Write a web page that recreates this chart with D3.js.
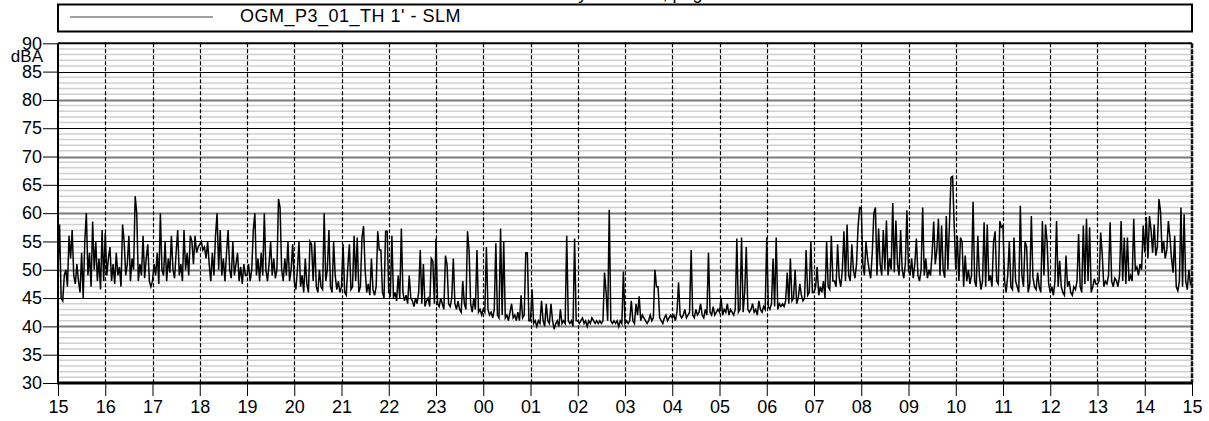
<!DOCTYPE html>
<html>
<head>
<meta charset="utf-8">
<script src="https://cdn.jsdelivr.net/npm/d3@7"></script>
<style>
  html, body { margin: 0; padding: 0; background: #fff; }
  svg { display: block; font-family: "Liberation Sans", Arial, sans-serif; }
</style>
</head>
<body>
<svg id="chart" width="1209" height="421"></svg>
<script>
// ---------------- data ----------------
const titleText = "Time history 24 hours, page 1";
const seriesName = "OGM_P3_01_TH 1' - SLM";
const unitLabel = "dBA";
const stepMinutes = 2;               // one value every 2 minutes, starting 15:00
const hourLabels = ["15","16","17","18","19","20","21","22","23","00","01","02","03","04","05","06","07","08","09","10","11","12","13","14","15"];
const yTicks = [30,35,40,45,50,55,60,65,70,75,80,85,90];

// LAeq 1' levels (dBA), one row per hour (30 values each)
const h15 = [50,58,45,44.5,49,50,47,56,52,57,49,47.5,51,48,46,53,45,55,60,49,53,47,58.5,50,55,48,52,46.5,57,48];
const h16 = [56.5,49,52,54,48,51,47.5,53,49,50.5,47,58,55,49,51,56,48,52,50,63,60,48,51,49,56,48.5,52,54.5,48,47];
const h17 = [48,51,49,53,47.5,60,50,49,55,48,52,49.5,56,50,48.5,53,57,49,51,48,57,50,53,49,56,55,51,56,53,54];
const h18 = [54.5,55,53.5,54,52,55,51,48,53,49,56,60,50,57,49,52,48,53,57,50,48.5,55,49,51,53,48,50.5,47.5,51,49];
const h19 = [49,51,48,50,57,60,49,52,48,53,49,60,50,48,51,55,49,52,48.5,50,62.5,61,50,48,52,49,55,48,50,54.5];
const h20 = [48,46.5,50,55,47,49,46,52,47.5,46,55,54.5,48,55,47,46,50,47,46.5,60,48,50,57,47,46,55,49,46.5,48,46];
const h21 = [47,54.5,46,45.5,50.5,54.5,46.5,47,56,48,55.7,46,47,55.7,57.7,50,46,47.5,45.5,52,46.5,45.5,47,56.8,53.5,53.5,46,45,56.8,56.8];
const h22 = [46,45.5,56,45,46,44.5,49,45,57.3,46,44.5,45.5,44,49,45,44.5,43.5,45,44,46,53.5,44,51,43.5,44.5,45,43.5,52,51.5,44];
const h23 = [55.5,44,43.5,45,44,43,52.5,51,44,43.5,45,52,44,43,44.5,43,42.5,48,44,43,56.8,53.5,44,42.5,45,43,53.5,42.5,43,42];
const h00 = [43,42.5,54,43,42,42.5,41.5,43,54.7,42,41.5,57.3,42,55,41.5,42,41,42.5,44,41.5,42,41,42.5,41,45.5,41.5,42,53,53,41];
const h01 = [41,46.5,40.5,41,40,41,40.5,44.5,41,40,44,41,40.5,44,41,39.5,40.5,41,40,43,40.5,41,40.5,56,41,40.5,41,40,55.5,41];
const h02 = [41,40.5,41,41.5,40.5,41,40,41,40.5,41.5,41,40.5,41,40.5,41,40.5,41,49.5,46,41,60.6,41,40.5,41,40.5,41,40,41,40.5,49.7];
const h03 = [40.5,41,40.5,41,44.5,41,40.5,44,42,45.3,41,42,41.5,41,40.5,41,42,41,41.5,50,47,47,41.5,41,40.5,41.5,42,41,41.5,42];
const h04 = [41.5,42,41,42.5,47.8,42,41.5,42,43,41.5,42,42.5,53.5,42,41.5,43,42,42.5,44,42,41.5,43,42,53,42.5,42,43.5,42,42.5,43];
const h05 = [42.5,45,42,43,42.5,44,42,43,42.5,42,43,55.5,42.5,43,55.7,42.5,46,54,43,42.5,43,44,42.5,43,42,44.5,43,42.5,43.5,43];
const h06 = [55.7,43.5,43,44,52,43.5,55.7,43,44,43.5,44,43.5,44.5,49.5,44,52,44.5,45,50,44,45,47.5,45.5,44.5,45,53.5,45.5,46,55,46];
const h07 = [46,47,50.5,45.5,47,46,48,45,55,47,46.5,56,48,48,47,54.5,48.5,47,50,56.8,48,58,49,48,54.5,50,48.5,51,57.7,61];
const h08 = [61,51,49,55,52,50,48.5,53,60,61,49,57.3,51,49,57,50,58.7,49,52,50,61.8,49.5,58.7,51,49,57,50,48.5,51,60.5];
const h09 = [50,49,52,48.5,51,55.5,49,48,50,61,49,52,48.5,50,49,53,58.5,51,53.5,59,49,57.8,50,48.6,59.5,50,58,66.3,66.5,58];
const h10 = [50,56,48,55.7,55,47,52.5,48,50,47.5,49,62,48,47,56,49,46.5,48,58.4,47,58,48,49,47,55,56.8,48,47.5,58.6,57.5];
const h11 = [57.8,48,46,49,55,47,46.5,55.7,48,47,46,61.3,49,47,55,54,46,47.5,59.5,48.7,47,46.5,49.5,47,46,58.6,49,58,55,47.5];
const h12 = [46,47,45.5,48,58.6,47,51.6,47,46,45.5,52.5,47,48,46,45.5,47,46.5,48,56.3,47,46,57.8,47.5,59,48,57.5,46,47,48.4,47.5];
const h13 = [47.5,48,56.6,52.8,47,48,47.5,49,58.4,48,47,48.5,48.1,47,49,58.6,48,55.7,47.5,55.7,48,49,48,59,50,50.5,49,51,50,57.8];
const h14 = [53,59.3,52,59.5,57,53,58,52.5,54,62.5,60.4,53,55.1,52,53.5,58.6,55.7,52,49.5,56,47,46.3,48,61,47,59.8,48,46.5,50,47.5];
const lastValue = [48];

const levels = [].concat(h15,h16,h17,h18,h19,h20,h21,h22,h23,h00,h01,h02,h03,h04,h05,h06,h07,h08,h09,h10,h11,h12,h13,h14,lastValue);

// ---------------- drawing ----------------
const svg = d3.select("#chart");
const W = 1209, H = 421;
const plot = { left: 58, right: 1192, top: 43.3, bottom: 383 };
const FS = 18;

const x = d3.scaleLinear().domain([0, 24 * 60]).range([plot.left, plot.right]);
const y = d3.scaleLinear().domain([30, 90]).range([plot.bottom, plot.top]);

svg.append("rect").attr("width", W).attr("height", H).attr("fill", "#fff");

// cut title at the very top
svg.append("text")
  .attr("x", 490).attr("y", -1.5)
  .attr("font-size", FS).attr("fill", "#000")
  .text(titleText);

// legend box
const lg = svg.append("g");
lg.append("rect")
  .attr("x", plot.left).attr("y", 4.5)
  .attr("width", plot.right - plot.left).attr("height", 27)
  .attr("fill", "#fff").attr("stroke", "#000").attr("stroke-width", 2);
lg.append("line")
  .attr("x1", 70).attr("x2", 213).attr("y1", 17).attr("y2", 17)
  .attr("stroke", "#444").attr("stroke-width", 1);
lg.append("text")
  .attr("x", 240).attr("y", 21.5)
  .attr("font-size", FS).attr("letter-spacing", 0.5).attr("fill", "#000")
  .text(seriesName);

// minor horizontal grid (every 1 dBA)
const minor = d3.range(31, 90).filter(v => v % 5 !== 0);
svg.append("g").selectAll("line").data(minor).join("line")
  .attr("x1", plot.left).attr("x2", plot.right)
  .attr("y1", d => y(d)).attr("y2", d => y(d))
  .attr("stroke", "#cfcfcf").attr("stroke-width", 1.5);

// major horizontal grid
const major = yTicks.filter(v => v > 30 && v < 90);
svg.append("g").selectAll("line").data(major).join("line")
  .attr("x1", plot.left).attr("x2", plot.right)
  .attr("y1", d => Math.round(y(d)) + 0.5).attr("y2", d => Math.round(y(d)) + 0.5)
  .attr("stroke", d => d % 10 === 0 ? "#7a7a7a" : "#000")
  .attr("stroke-width", d => d % 10 === 0 ? 2 : 1);

// vertical hour grid (dashed)
const hourIdx = d3.range(1, hourLabels.length - 1);
svg.append("g").selectAll("line").data(hourIdx).join("line")
  .attr("x1", d => Math.round(x(d * 60)) + 0.5).attr("x2", d => Math.round(x(d * 60)) + 0.5)
  .attr("y1", plot.top).attr("y2", plot.bottom)
  .attr("stroke", "#000").attr("stroke-width", 1.2)
  .attr("stroke-dasharray", "4,2");

// data line
const line = d3.line()
  .x((d, i) => x(i * stepMinutes))
  .y(d => y(d));
svg.append("path")
  .datum(levels)
  .attr("d", line)
  .attr("fill", "none")
  .attr("stroke", "#000")
  .attr("stroke-width", 1.5)
  .attr("stroke-linejoin", "miter");

// frame
svg.append("line").attr("x1", plot.left).attr("x2", plot.right)
  .attr("y1", plot.top).attr("y2", plot.top).attr("stroke", "#000").attr("stroke-width", 2);
svg.append("line").attr("x1", plot.left).attr("x2", plot.left)
  .attr("y1", plot.top).attr("y2", plot.bottom).attr("stroke", "#000").attr("stroke-width", 2);
svg.append("line").attr("x1", plot.right).attr("x2", plot.right)
  .attr("y1", plot.top).attr("y2", plot.bottom).attr("stroke", "#111").attr("stroke-width", 2.5)
  .attr("stroke-dasharray", "5,1");

// y axis
const yAxis = d3.axisLeft(y).tickValues(yTicks).tickSize(15).tickPadding(1).tickFormat(d3.format("d"));
const gy = svg.append("g").attr("transform", `translate(${plot.left},0)`).call(yAxis);
gy.select(".domain").remove();
gy.selectAll(".tick line").attr("stroke", "#000").attr("stroke-width", 1);
gy.selectAll(".tick text").attr("font-size", FS).attr("fill", "#000")
  .attr("font-family", "Liberation Sans, Arial, sans-serif");

svg.append("text")
  .attr("x", 43).attr("y", 62)
  .attr("text-anchor", "end")
  .attr("font-size", 17).attr("fill", "#000")
  .text(unitLabel);

// x axis
const xTickVals = hourLabels.map((d, i) => i * 60);
const xAxis = d3.axisBottom(x).tickValues(xTickVals).tickSize(13).tickPadding(4)
  .tickFormat((d, i) => hourLabels[i]);
const gx = svg.append("g").attr("transform", `translate(0,${plot.bottom})`).call(xAxis);
gx.select(".domain").remove();
gx.selectAll(".tick line").attr("stroke", "#000").attr("stroke-width", 1);
gx.selectAll(".tick text").attr("font-size", FS).attr("fill", "#000")
  .attr("font-family", "Liberation Sans, Arial, sans-serif");

svg.append("line").attr("x1", plot.left - 1).attr("x2", plot.right + 1)
  .attr("y1", plot.bottom).attr("y2", plot.bottom).attr("stroke", "#000").attr("stroke-width", 3);
</script>
</body>
</html>
